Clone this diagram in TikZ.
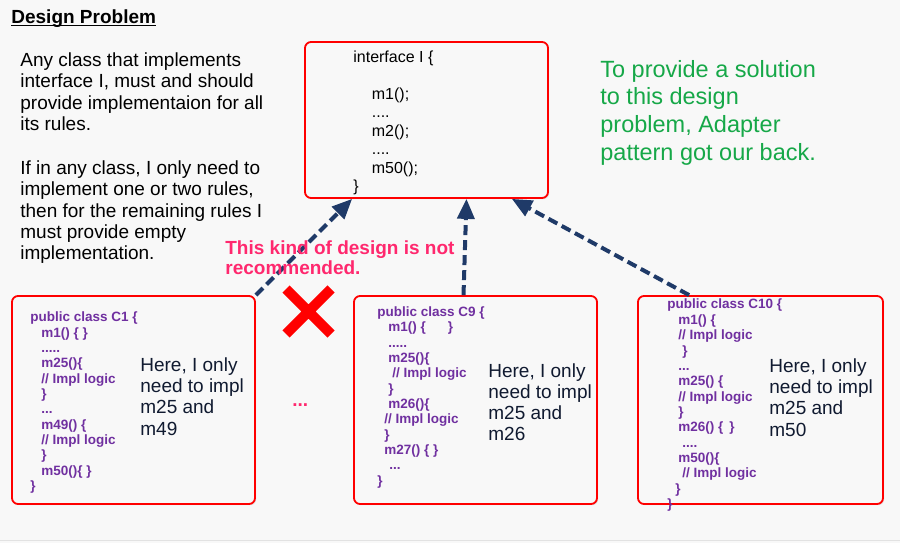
\documentclass[tikz,border=0pt]{standalone}
\usepackage{fontspec}
\setmainfont{Liberation Sans}
\usetikzlibrary{arrows.meta,shadows,calc}

\definecolor{bgcol}{RGB}{248,248,248}
\definecolor{boxred}{RGB}{255,0,0}
\definecolor{arrownavy}{RGB}{31,58,104}
\definecolor{codepurple}{RGB}{112,48,160}
\definecolor{warnpink}{RGB}{255,40,110}
\definecolor{notegreen}{RGB}{22,168,72}
\definecolor{notedark}{RGB}{16,26,48}
\definecolor{rulegray}{RGB}{226,226,226}

\newcommand\ind[1]{\hspace*{#1pt}}

\tikzset{every picture/.style={line width=0.75pt}}
\tikzset{
  classbox/.style={draw=boxred, line width=1.8pt, rounded corners=6pt, fill=bgcol, inner sep=0pt,
    drop shadow={opacity=0.2, shadow xshift=1.2pt, shadow yshift=-1.2pt}},
  implarrow/.style={draw=arrownavy, line width=4pt, dash pattern=on 10pt off 5pt,
    -{Triangle[length=20pt,width=17pt]}},
  codetext/.style={anchor=base west, inner sep=0pt, align=left, text=codepurple,
    font=\fontsize{13.5}{15.35}\selectfont\bfseries},
  heretext/.style={anchor=base west, inner sep=0pt, align=left, text=notedark,
    font=\fontsize{19}{21.1}\selectfont},
}

\begin{document}
\begin{tikzpicture}[x=1pt,y=1pt,yscale=-1,xscale=1]
\path[use as bounding box] (0,0) rectangle (900,543);
\fill[bgcol] (0,0) rectangle (900,543);
%Straight Lines
\draw[rulegray, line width=1pt] (0,540) -- (900,540);

%Shape: Rectangle
\node (iface) [classbox, minimum width=243pt, minimum height=156pt] at (426.5,120) {};
%Shape: Rectangle
\node (cone) [classbox, minimum width=243pt, minimum height=208pt] at (133.5,400) {};
%Shape: Rectangle
\node (cnine) [classbox, minimum width=243pt, minimum height=208pt] at (475.5,400) {};
%Shape: Rectangle
\node (cten) [classbox, minimum width=245pt, minimum height=208pt] at (760.5,400) {};

%Straight Lines
\draw[implarrow] (cone.north east) -- ([xshift=48pt]iface.south west);
%Straight Lines
\draw[implarrow] ([xshift=-12pt]cnine.north) -- ([xshift=40pt]iface.south);
%Straight Lines
\draw[implarrow] ([xshift=52pt]cten.north west) -- ([xshift=-37pt]iface.south east);

%Shape: Cross
\draw[boxred, line width=10pt] (286,289) -- (331,334) (331,289) -- (286,334);

%multi-line text nodes sit on the baseline of their last line
% Text Node
\draw (11,23.3) node (heading) [anchor=base west][inner sep=0pt] [font=\fontsize{19}{21}\selectfont\bfseries] {Design Problem};
\draw[line width=1.4pt] ($(heading.base west)+(0,2)$) -- ($(heading.base east)+(0,2)$);
% Text Node
\draw (20,259.5) node (rules) [anchor=base west][inner sep=0pt] [font=\fontsize{19}{21.25}\selectfont] [align=left] {Any class that implements\\interface I, must and should\\provide implementaion for all\\its rules.\\[23pt]If in any class, I only need to\\implement one or two rules,\\then for the remaining rules I\\must provide empty\\implementation.};
% Text Node
\draw (353,191.8) node (ifacetext) [anchor=base west][inner sep=0pt] [font=\fontsize{16}{18.5}\selectfont] [align=left] {interface I \{\\[18.5pt]\ind{18.5}m1();\\\ind{18.5}....\\\ind{18.5}m2();\\\ind{18.5}....\\\ind{18.5}m50();\\\}};
% Text Node
\draw (600,160.1) node (solution) [anchor=base west][inner sep=0pt] [text=notegreen] [font=\fontsize{23.5}{27.6}\selectfont] [align=left] {To provide a solution\\to this design\\problem, Adapter\\pattern got our back.};
% Text Node
\draw (225,274.5) node (warning) [anchor=base west][inner sep=0pt] [text=warnpink] [font=\fontsize{19}{20.5}\selectfont\bfseries] [align=left] {This kind of design is not\\recommended.};
% Text Node
\draw (292,406) node (moredots) [anchor=base west][inner sep=0pt] [text=warnpink] [font=\fontsize{19}{20}\selectfont\bfseries] {...};

% Text Node
\draw (30,490.5) node (codeone) [codetext] {public class C1 \{\\\ind{11}m1() \{ \}\\\ind{11}.....\\\ind{11}m25()\{\\\ind{11}// Impl logic\\\ind{11}\}\\\ind{11}...\\\ind{11}m49() \{\\\ind{11}// Impl logic\\\ind{11}\}\\\ind{11}m50()\{ \}\\\}};
% Text Node
\draw (140,435) node (noteone) [heretext] {Here, I only\\need to impl\\m25 and\\m49};

% Text Node
\draw (377,485.3) node (codenine) [codetext] {public class C9 \{\\\ind{11}m1() \{\hspace{22pt}\}\\\ind{11}.....\\\ind{11}m25()\{\\\ind{15}// Impl logic\\\ind{11}\}\\\ind{11}m26()\{\\\ind{7}// Impl logic\\\ind{7}\}\\\ind{7}m27() \{ \}\\\ind{12}...\\\}};
% Text Node
\draw (488,440.6) node (notenine) [heretext] {Here, I only\\need to impl\\m25 and\\m26};

% Text Node
\draw (667,508.5) node (codeten) [codetext] {public class C10 \{\\\ind{11}m1() \{\\\ind{11}// Impl logic\\\ind{15}\}\\\ind{11}...\\\ind{11}m25() \{\\\ind{11}// Impl logic\\\ind{11}\}\\\ind{11}m26() \{\hspace{6pt}\}\\\ind{15}....\\\ind{11}m50()\{\\\ind{15}// Impl logic\\\ind{8}\}\\\}};
% Text Node
\draw (769,436) node (noteten) [heretext] {Here, I only\\need to impl\\m25 and\\m50};

\end{tikzpicture}
\end{document}
